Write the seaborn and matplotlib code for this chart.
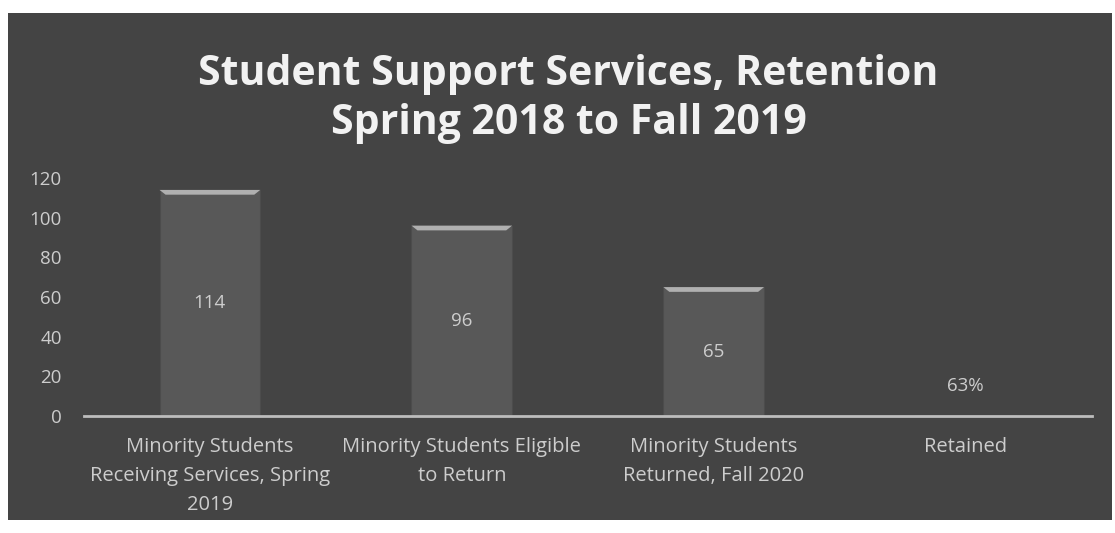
import matplotlib
matplotlib.use("Agg")
import matplotlib.pyplot as plt
from matplotlib.patches import Rectangle, Polygon
import seaborn as sns
import pandas as pd

categories = [
    "Minority Students\nReceiving Services, Spring\n2019",
    "Minority Students Eligible\nto Return",
    "Minority Students\nReturned, Fall 2020",
    "Retained",
]
values = [114, 96, 65, 0.63]
value_labels = ["114", "96", "65", "63%"]
yticks = [0, 20, 40, 60, 80, 100, 120]
title = "Student Support Services, Retention\nSpring 2018 to Fall 2019"

sns.set_theme(style="dark")
plt.rcParams["font.family"] = ["Open Sans", "DejaVu Sans"]

panel = "#444444"
bar_color = "#585858"
text_color = "#cdcdcd"

fig = plt.figure(figsize=(11.15, 5.33), dpi=100, facecolor="white")
fig.patches.append(Rectangle((8 / 1115, 13 / 533), 1104 / 1115, 507 / 533,
                             transform=fig.transFigure, facecolor=panel,
                             edgecolor="none", zorder=-5))

ax = fig.add_axes([0.0753, 0.2195, 0.9037, 0.4465])
ax.patch.set_visible(False)

df = pd.DataFrame({"category": categories, "value": values})
sns.barplot(data=df, x="category", y="value", color=bar_color, width=0.4,
            saturation=1, ax=ax, edgecolor="#4c4c4c", linewidth=0.8)

# bevelled top edge on each bar
for p in list(ax.patches):
    x0, w, h = p.get_x(), p.get_width(), p.get_height()
    if h < 2:
        continue
    d = 2.4
    inset = w * 0.06
    ax.add_patch(Polygon([(x0, h), (x0 + w, h), (x0 + w - inset, h - d),
                          (x0 + inset, h - d)], closed=True,
                         facecolor="#b0b0b0", edgecolor="none", zorder=3))

# value labels centred in the bars
for i, (v, lab) in enumerate(zip(values, value_labels)):
    if v < 5:
        ax.annotate(lab, (i, v), xytext=(0, 21), textcoords="offset points",
                    ha="center", va="center", color=text_color, fontsize=13.5)
    else:
        ax.text(i, v / 2, lab, ha="center", va="center",
                color=text_color, fontsize=13.5)

ax.set_xlim(-0.5, 3.5)
ax.set_ylim(0, 120)
ax.set_yticks(yticks)
ax.set_yticklabels([str(t) for t in yticks], color=text_color, fontsize=13.5)
ax.tick_params(axis="y", length=0, pad=16)
ax.tick_params(axis="x", length=0, pad=15, labelsize=14.5, colors=text_color)
ax.set_xlabel("")
ax.set_ylabel("")
ax.grid(False)
for side in ["top", "right", "left"]:
    ax.spines[side].set_visible(False)
ax.spines["bottom"].set_color("#bdbdbd")
ax.spines["bottom"].set_linewidth(2)
for t in ax.get_xticklabels():
    t.set_linespacing(1.6)

fig.text(0.51, 0.814, title, ha="center", va="center", color="#f2f2f2",
         fontsize=29.5, fontweight="bold", linespacing=1.27)

fig.savefig("out.png", dpi=100, facecolor="white")
